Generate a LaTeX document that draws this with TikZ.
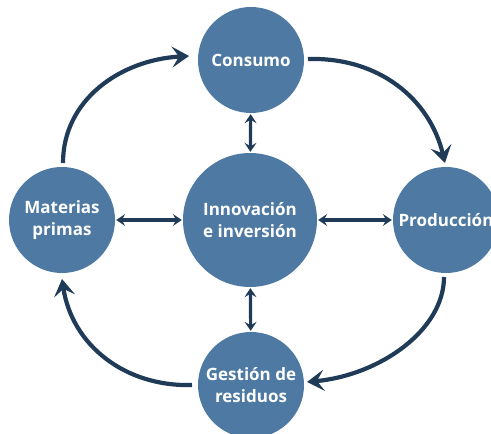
\documentclass[tikz,border=0pt]{standalone}
\usepackage{fontspec}
\setmainfont{Open Sans}
\usetikzlibrary{arrows.meta}
\definecolor{circ}{HTML}{4E79A2}
\definecolor{arr}{HTML}{1F3B58}
\begin{document}
\begin{tikzpicture}[x=1pt,y=-1pt,
  blob/.style={circle,fill=circ,inner sep=0pt,text=white,font=\bfseries\fontsize{17}{22}\selectfont,align=center},
  cyc/.style={draw=arr,line width=4.2pt,-{Stealth[length=17pt,width=21pt,inset=7pt]}},
  dbl/.style={draw=arr,line width=3.2pt,{Stealth[length=9pt,width=12pt,inset=3.5pt]}-{Stealth[length=9pt,width=12pt,inset=3.5pt]}}]
\useasboundingbox (0,0) rectangle (491,434);
\node[blob,minimum size=106pt] (con) at (251,60) {Consumo};
\node[blob,minimum size=134pt] (inn) at (250,220) {Innovación\\e inversión};
\node[blob,minimum size=106pt] (mat) at (62,220) {Materias\\primas};
\node[blob,minimum size=106pt] (pro) at (446,220) {Producción};
\node[blob,minimum size=106pt] (ges) at (251,385) {Gestión de\\residuos};
\coordinate (c1) at (308,59);
\coordinate (c2) at (445,163);
\coordinate (p1) at (444,277);
\coordinate (p2) at (307,382);
\coordinate (g1) at (192,385);
\coordinate (g2) at (62,279);
\coordinate (m1) at (63,163);
\coordinate (m2) at (189,56);
\draw[cyc] (c1) .. controls (380,57) and (430,100) .. (c2);
\draw[cyc] (p1) .. controls (444,330) and (380,375) .. (p2);
\draw[cyc] (g1) .. controls (125,387) and (72,345) .. (g2);
\draw[cyc] (m1) .. controls (63,100) and (120,60) .. (m2);
\draw[dbl,shorten <=1pt,shorten >=1pt] (con) -- (inn);
\draw[dbl,shorten <=1pt,shorten >=1pt] (inn) -- (ges);
\draw[dbl,shorten <=1pt,shorten >=1pt] (mat) -- (inn);
\draw[dbl,shorten <=1pt,shorten >=1pt] (inn) -- (pro);
\end{tikzpicture}
\end{document}
